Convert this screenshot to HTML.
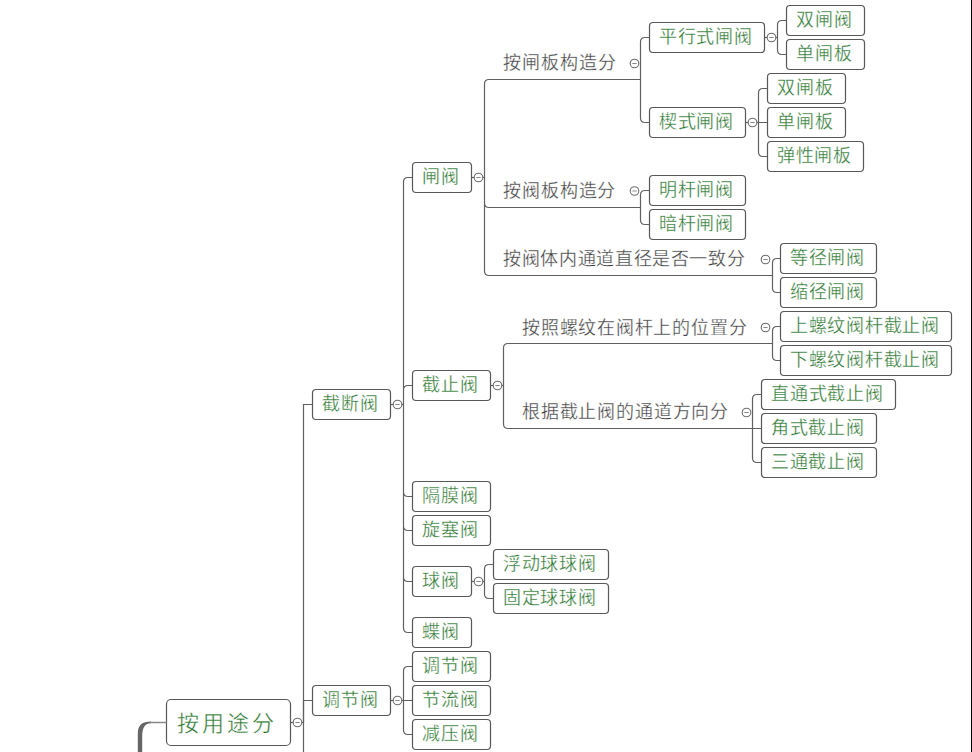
<!DOCTYPE html><html lang="zh-CN"><head><meta charset="utf-8"><style>
html,body{margin:0;padding:0;background:#fff;width:972px;height:752px;overflow:hidden}
svg{display:block;font-family:"Liberation Sans",sans-serif}
.b{fill:#fff;stroke:#585858;stroke-width:1.2}
.l{fill:none;stroke:#606060;stroke-width:1.2}
.c{fill:#fff;stroke:#6e6e6e;stroke-width:1.1}
.t{fill:#2a752e;font-size:18px;letter-spacing:0.75px;stroke:#fff;stroke-width:0.3px}
.g{fill:#3d3d3d;font-size:18px;letter-spacing:0.6px;stroke:#fff;stroke-width:0.3px}
</style></head><body>
<svg width="972" height="752" viewBox="0 0 972 752">
<path class="l" d="M777.5 37.5V25.0Q777.5 20.5 782.0 20.5H786.5M777.5 37.5V50.0Q777.5 54.5 782.0 54.5H786.5"/>
<path class="l" d="M758.5 122.5V93.0Q758.5 88.5 763.0 88.5H767.5M758.5 122.5H767.5M758.5 122.5V152.0Q758.5 156.5 763.0 156.5H767.5"/>
<path class="l" d="M640.5 79.5V42.0Q640.5 37.5 645.0 37.5H649.5M640.5 79.5V118.0Q640.5 122.5 645.0 122.5H649.5"/>
<path class="l" d="M640.5 207.5V195.0Q640.5 190.5 645.0 190.5H649.5M640.5 207.5V220.0Q640.5 224.5 645.0 224.5H649.5"/>
<path class="l" d="M772.5 275.5V263.0Q772.5 258.5 777.0 258.5H780.5M772.5 275.5V288.0Q772.5 292.5 777.0 292.5H780.5"/>
<path class="l" d="M772.5 343.5V331.0Q772.5 326.5 777.0 326.5H780.5M772.5 343.5V356.0Q772.5 360.5 777.0 360.5H780.5"/>
<path class="l" d="M752.5 428.5V399.0Q752.5 394.5 757.0 394.5H761.5M752.5 428.5H761.5M752.5 428.5V458.0Q752.5 462.5 757.0 462.5H761.5"/>
<path class="l" d="M484.5 177.5V84.0Q484.5 79.5 489.0 79.5H503.0M484.5 203.0Q484.5 207.5 489.0 207.5H503.0M484.5 177.5V271.0Q484.5 275.5 489.0 275.5H503.0"/>
<path class="l" d="M503.5 385.5V348.0Q503.5 343.5 508.0 343.5H522.0M503.5 385.5V424.0Q503.5 428.5 508.0 428.5H522.0"/>
<path class="l" d="M484.5 581.5V569.0Q484.5 564.5 489.0 564.5H493.5M484.5 581.5V594.0Q484.5 598.5 489.0 598.5H493.5"/>
<path class="l" d="M403.5 404.5V182.0Q403.5 177.5 408.0 177.5H412.5M403.5 390.0Q403.5 385.5 408.0 385.5H412.5M403.5 492.0Q403.5 496.5 408.0 496.5H412.5M403.5 526.0Q403.5 530.5 408.0 530.5H412.5M403.5 577.0Q403.5 581.5 408.0 581.5H412.5M403.5 404.5V628.0Q403.5 632.5 408.0 632.5H412.5"/>
<path class="l" d="M403.5 700.5V671.0Q403.5 666.5 408.0 666.5H412.5M403.5 700.5H412.5M403.5 700.5V730.0Q403.5 734.5 408.0 734.5H412.5"/>
<path class="l" d="M303.5 722.5V404.5H312.5M303.5 700.5H312.5M303.5 800.0H312.5"/>
<path class="l" d="M489.5 79.5H641.0"/>
<path class="l" d="M489.5 207.5H641.0"/>
<path class="l" d="M489.5 275.5H772.0"/>
<path class="l" d="M508.0 343.5H772.0"/>
<path class="l" d="M508.0 428.5H752.5"/>
<path class="l" d="M764.5 37.5H777.5"/>
<path class="l" d="M745.5 122.5H758.5"/>
<path class="l" d="M471.5 177.5H484.5"/>
<path class="l" d="M490.5 385.5H503.5"/>
<path class="l" d="M471.5 581.5H484.5"/>
<path class="l" d="M390.5 404.5H403.5"/>
<path class="l" d="M390.5 700.5H403.5"/>
<path class="l" d="M290.5 722.5H303.5"/>
<rect class="b" x="649.5" y="22.5" width="115.0" height="30.0" rx="3.5"/>
<text class="t" x="705.8" y="36.8" text-anchor="middle" dominant-baseline="central">平行式闸阀</text>
<rect class="b" x="786.5" y="5.5" width="78.0" height="30.0" rx="3.5"/>
<text class="t" x="824.3" y="19.8" text-anchor="middle" dominant-baseline="central">双闸阀</text>
<rect class="b" x="786.5" y="39.5" width="78.0" height="30.0" rx="3.5"/>
<text class="t" x="824.3" y="53.8" text-anchor="middle" dominant-baseline="central">单闸板</text>
<rect class="b" x="649.5" y="107.5" width="96.0" height="30.0" rx="3.5"/>
<text class="t" x="696.3" y="121.8" text-anchor="middle" dominant-baseline="central">楔式闸阀</text>
<rect class="b" x="767.5" y="73.5" width="78.0" height="30.0" rx="3.5"/>
<text class="t" x="805.3" y="87.8" text-anchor="middle" dominant-baseline="central">双闸板</text>
<rect class="b" x="767.5" y="107.5" width="78.0" height="30.0" rx="3.5"/>
<text class="t" x="805.3" y="121.8" text-anchor="middle" dominant-baseline="central">单闸板</text>
<rect class="b" x="767.5" y="141.5" width="96.0" height="30.0" rx="3.5"/>
<text class="t" x="814.3" y="155.8" text-anchor="middle" dominant-baseline="central">弹性闸板</text>
<rect class="b" x="649.5" y="175.5" width="96.0" height="30.0" rx="3.5"/>
<text class="t" x="696.3" y="189.8" text-anchor="middle" dominant-baseline="central">明杆闸阀</text>
<rect class="b" x="649.5" y="209.5" width="96.0" height="30.0" rx="3.5"/>
<text class="t" x="696.3" y="223.8" text-anchor="middle" dominant-baseline="central">暗杆闸阀</text>
<rect class="b" x="780.5" y="243.5" width="96.0" height="30.0" rx="3.5"/>
<text class="t" x="827.3" y="257.8" text-anchor="middle" dominant-baseline="central">等径闸阀</text>
<rect class="b" x="780.5" y="277.5" width="96.0" height="30.0" rx="3.5"/>
<text class="t" x="827.3" y="291.8" text-anchor="middle" dominant-baseline="central">缩径闸阀</text>
<rect class="b" x="780.5" y="311.5" width="171.0" height="30.0" rx="3.5"/>
<text class="t" x="864.8" y="325.8" text-anchor="middle" dominant-baseline="central">上螺纹阀杆截止阀</text>
<rect class="b" x="780.5" y="345.5" width="171.0" height="30.0" rx="3.5"/>
<text class="t" x="864.8" y="359.8" text-anchor="middle" dominant-baseline="central">下螺纹阀杆截止阀</text>
<rect class="b" x="761.5" y="379.5" width="134.0" height="30.0" rx="3.5"/>
<text class="t" x="827.3" y="393.8" text-anchor="middle" dominant-baseline="central">直通式截止阀</text>
<rect class="b" x="761.5" y="413.5" width="115.0" height="30.0" rx="3.5"/>
<text class="t" x="817.8" y="427.8" text-anchor="middle" dominant-baseline="central">角式截止阀</text>
<rect class="b" x="761.5" y="447.5" width="115.0" height="30.0" rx="3.5"/>
<text class="t" x="817.8" y="461.8" text-anchor="middle" dominant-baseline="central">三通截止阀</text>
<rect class="b" x="412.5" y="162.5" width="59.0" height="30.0" rx="3.5"/>
<text class="t" x="440.8" y="176.8" text-anchor="middle" dominant-baseline="central">闸阀</text>
<rect class="b" x="412.5" y="370.5" width="78.0" height="30.0" rx="3.5"/>
<text class="t" x="450.3" y="384.8" text-anchor="middle" dominant-baseline="central">截止阀</text>
<rect class="b" x="412.5" y="481.5" width="78.0" height="30.0" rx="3.5"/>
<text class="t" x="450.3" y="495.8" text-anchor="middle" dominant-baseline="central">隔膜阀</text>
<rect class="b" x="412.5" y="515.5" width="78.0" height="30.0" rx="3.5"/>
<text class="t" x="450.3" y="529.8" text-anchor="middle" dominant-baseline="central">旋塞阀</text>
<rect class="b" x="412.5" y="566.5" width="59.0" height="30.0" rx="3.5"/>
<text class="t" x="440.8" y="580.8" text-anchor="middle" dominant-baseline="central">球阀</text>
<rect class="b" x="412.5" y="617.5" width="59.0" height="30.0" rx="3.5"/>
<text class="t" x="440.8" y="631.8" text-anchor="middle" dominant-baseline="central">蝶阀</text>
<rect class="b" x="493.5" y="549.5" width="115.0" height="30.0" rx="3.5"/>
<text class="t" x="549.8" y="563.8" text-anchor="middle" dominant-baseline="central">浮动球球阀</text>
<rect class="b" x="493.5" y="583.5" width="115.0" height="30.0" rx="3.5"/>
<text class="t" x="549.8" y="597.8" text-anchor="middle" dominant-baseline="central">固定球球阀</text>
<rect class="b" x="312.5" y="389.5" width="78.0" height="30.0" rx="3.5"/>
<text class="t" x="350.3" y="403.8" text-anchor="middle" dominant-baseline="central">截断阀</text>
<rect class="b" x="312.5" y="685.5" width="78.0" height="30.0" rx="3.5"/>
<text class="t" x="350.3" y="699.8" text-anchor="middle" dominant-baseline="central">调节阀</text>
<rect class="b" x="412.5" y="651.5" width="78.0" height="30.0" rx="3.5"/>
<text class="t" x="450.3" y="665.8" text-anchor="middle" dominant-baseline="central">调节阀</text>
<rect class="b" x="412.5" y="685.5" width="78.0" height="30.0" rx="3.5"/>
<text class="t" x="450.3" y="699.8" text-anchor="middle" dominant-baseline="central">节流阀</text>
<rect class="b" x="412.5" y="719.5" width="78.0" height="30.0" rx="3.5"/>
<text class="t" x="450.3" y="733.8" text-anchor="middle" dominant-baseline="central">减压阀</text>
<rect class="b" x="166.5" y="699.5" width="124.0" height="46.0" rx="4.5"/>
<path class="l" d="M303.5 700V752"/>
<text class="t" style="font-size:22px;letter-spacing:3px;stroke-width:0.4px" x="226.8" y="723.5" text-anchor="middle" dominant-baseline="central">按用途分</text>
<path d="M137.8 752V733Q137.8 721.6 151 721.6L151 723.2Q142.2 723.2 142.2 736V752Z" fill="#666"/>
<path d="M150 722.5H166.5" fill="none" stroke="#888" stroke-width="1.5"/>
<text class="g" x="503.0" y="62.7" dominant-baseline="central" style="letter-spacing:0.95px">按闸板构造分</text>
<text class="g" x="503.0" y="190.7" dominant-baseline="central" style="letter-spacing:0.9px">按阀板构造分</text>
<text class="g" x="503.0" y="259.0" dominant-baseline="central" style="letter-spacing:0.65px">按阀体内通道直径是否一致分</text>
<text class="g" x="522.0" y="327.6" dominant-baseline="central" style="letter-spacing:0.78px">按照螺纹在阀杆上的位置分</text>
<text class="g" x="522.0" y="411.9" dominant-baseline="central" style="letter-spacing:0.82px">根据截止阀的通道方向分</text>
<circle class="c" cx="771.5" cy="37.5" r="4.3"/>
<path d="M769.3 37.5H773.7" stroke="#8a8a8a" stroke-width="1" fill="none"/>
<circle class="c" cx="752.5" cy="122.5" r="4.3"/>
<path d="M750.3 122.5H754.7" stroke="#8a8a8a" stroke-width="1" fill="none"/>
<circle class="c" cx="478.5" cy="177.5" r="4.3"/>
<path d="M476.3 177.5H480.7" stroke="#8a8a8a" stroke-width="1" fill="none"/>
<circle class="c" cx="497.5" cy="385.5" r="4.3"/>
<path d="M495.3 385.5H499.7" stroke="#8a8a8a" stroke-width="1" fill="none"/>
<circle class="c" cx="478.5" cy="581.5" r="4.3"/>
<path d="M476.3 581.5H480.7" stroke="#8a8a8a" stroke-width="1" fill="none"/>
<circle class="c" cx="397.5" cy="404.5" r="4.3"/>
<path d="M395.3 404.5H399.7" stroke="#8a8a8a" stroke-width="1" fill="none"/>
<circle class="c" cx="397.5" cy="700.5" r="4.3"/>
<path d="M395.3 700.5H399.7" stroke="#8a8a8a" stroke-width="1" fill="none"/>
<circle class="c" cx="297.5" cy="722.5" r="4.3"/>
<path d="M295.3 722.5H299.7" stroke="#8a8a8a" stroke-width="1" fill="none"/>
<circle class="c" cx="634.5" cy="63.5" r="4.3"/>
<path d="M632.3 63.5H636.7" stroke="#8a8a8a" stroke-width="1" fill="none"/>
<circle class="c" cx="634.5" cy="191.0" r="4.3"/>
<path d="M632.3 191.0H636.7" stroke="#8a8a8a" stroke-width="1" fill="none"/>
<circle class="c" cx="765.5" cy="259.5" r="4.3"/>
<path d="M763.3 259.5H767.7" stroke="#8a8a8a" stroke-width="1" fill="none"/>
<circle class="c" cx="765.5" cy="327.5" r="4.3"/>
<path d="M763.3 327.5H767.7" stroke="#8a8a8a" stroke-width="1" fill="none"/>
<circle class="c" cx="746.5" cy="412.5" r="4.3"/>
<path d="M744.3 412.5H748.7" stroke="#8a8a8a" stroke-width="1" fill="none"/>
<rect x="971" y="0" width="1" height="752" fill="#000"/>
</svg></body></html>
